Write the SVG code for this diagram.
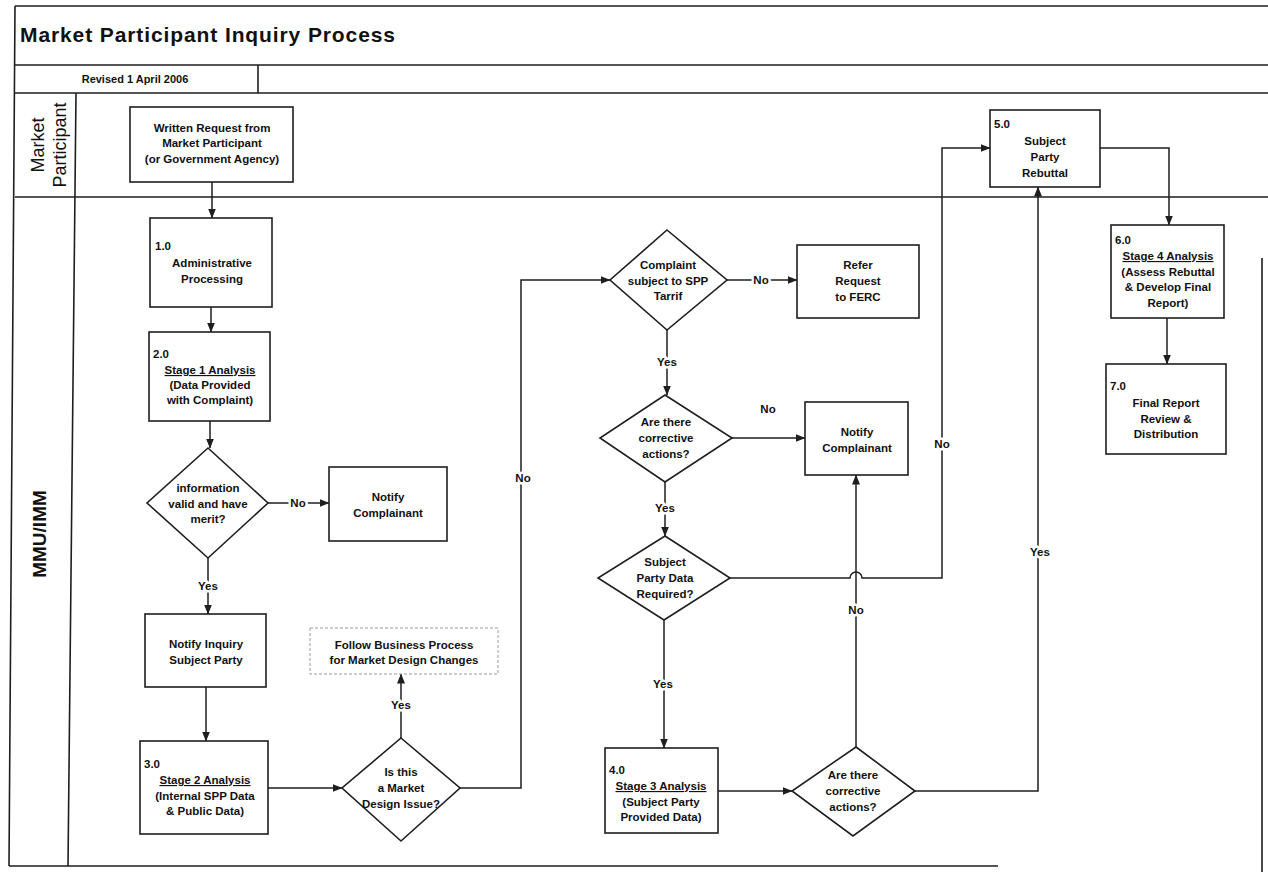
<svg xmlns="http://www.w3.org/2000/svg" width="1268" height="872" viewBox="0 0 1268 872">
  <style>
    .frame { fill: none; stroke: #1e1e1e; stroke-width: 1.6; }
    .box { fill: #ffffff; stroke: #1e1e1e; stroke-width: 1.6; }
    .soft { fill: #ffffff; stroke: #9a9a9a; stroke-width: 1; stroke-dasharray: 3 2; }
    .edge { fill: none; stroke: #1e1e1e; stroke-width: 1.5; }
    text { font-family: "Liberation Sans", Arial, sans-serif; fill: #111111; }
    .t { font-size: 11.5px; font-weight: bold; text-anchor: middle; }
    .num { font-size: 11.5px; font-weight: bold; }
    .u { text-decoration: underline; }
    .lbl { font-size: 11.5px; font-weight: bold; text-anchor: middle; stroke: #ffffff; stroke-width: 5; paint-order: stroke; stroke-linejoin: round; }
    .title { font-size: 21px; font-weight: bold; }
    .lane { font-size: 18px; text-anchor: middle; }
  </style>
  <defs>
    <marker id="ah" markerWidth="10" markerHeight="8" refX="9.5" refY="4" orient="auto" markerUnits="userSpaceOnUse">
      <path d="M0,0 L10,4 L0,8 z" fill="#1e1e1e"/>
    </marker>
  </defs>

  <rect width="1268" height="872" fill="#ffffff"/>

  <!-- page frame, title rows and swimlanes -->
  <g id="frame">
    <path class="frame" d="M15,6 H1268 M15,65 H1268 M15,93 H1268 M15,197 H1268 M258,65 V93 M15,6 L9,866 M76,93 L68,866 M9,866 H998 M1262,258 V872"/>
    <text class="title" x="20" y="42" textLength="375">Market Participant Inquiry Process</text>
    <text x="135" y="83" style="font-size:11px;font-weight:bold;text-anchor:middle">Revised 1 April 2006</text>
    <text class="lane" transform="translate(44,145) rotate(-90)">Market</text>
    <text class="lane" transform="translate(66,145) rotate(-90)">Participant</text>
    <text transform="translate(46,534) rotate(-90)" style="font-size:19px;font-weight:bold;text-anchor:middle">MMU/IMM</text>
  </g>

  <!-- connectors -->
  <g id="connectors">
    <path class="edge" marker-end="url(#ah)" d="M212,182 V218"/>
    <path class="edge" marker-end="url(#ah)" d="M211,307 V332"/>
    <path class="edge" marker-end="url(#ah)" d="M210,421 V448"/>
    <path class="edge" marker-end="url(#ah)" d="M268,503 H329"/>
    <path class="edge" marker-end="url(#ah)" d="M208,558 V614"/>
    <path class="edge" marker-end="url(#ah)" d="M206,687 V741"/>
    <path class="edge" marker-end="url(#ah)" d="M268,788 H342"/>
    <path class="edge" marker-end="url(#ah)" d="M401,738 V674"/>
    <path class="edge" marker-end="url(#ah)" d="M460,788 H521 V280 H610"/>
    <path class="edge" marker-end="url(#ah)" d="M727,280 H797"/>
    <path class="edge" marker-end="url(#ah)" d="M667,330 V395"/>
    <path class="edge" marker-end="url(#ah)" d="M732,438 H805"/>
    <path class="edge" marker-end="url(#ah)" d="M665,482 V536"/>
    <path class="edge" marker-end="url(#ah)" d="M730,578 H850 a6,6 0 0 1 12,0 H942 V148 H990"/>
    <path class="edge" marker-end="url(#ah)" d="M664,620 V748"/>
    <path class="edge" marker-end="url(#ah)" d="M718,791 H792"/>
    <path class="edge" marker-end="url(#ah)" d="M856,747 V475"/>
    <path class="edge" marker-end="url(#ah)" d="M915,791 H1038 V187"/>
    <path class="edge" marker-end="url(#ah)" d="M1100,148 H1169 V225"/>
    <path class="edge" marker-end="url(#ah)" d="M1167,318 V364"/>

    <text class="lbl" x="298" y="507">No</text>
    <text class="lbl" x="208" y="590">Yes</text>
    <text class="lbl" x="401" y="709">Yes</text>
    <text class="lbl" x="523" y="482">No</text>
    <text class="lbl" x="761" y="284">No</text>
    <text class="lbl" x="667" y="366">Yes</text>
    <text class="lbl" x="768" y="413">No</text>
    <text class="lbl" x="665" y="512">Yes</text>
    <text class="lbl" x="942" y="448">No</text>
    <text class="lbl" x="663" y="688">Yes</text>
    <text class="lbl" x="856" y="614">No</text>
    <text class="lbl" x="1040" y="556">Yes</text>
  </g>

  <!-- process steps -->
  <g id="written-request">
    <rect class="box" x="130" y="107" width="163" height="75"/>
    <text class="t" x="212" y="132">Written Request from</text>
    <text class="t" x="212" y="147">Market Participant</text>
    <text class="t" x="212" y="163">(or Government Agency)</text>
  </g>

  <g id="step-1">
    <rect class="box" x="150" y="218" width="122" height="89"/>
    <text class="num" x="155" y="250">1.0</text>
    <text class="t" x="212" y="267">Administrative</text>
    <text class="t" x="212" y="283">Processing</text>
  </g>

  <g id="step-2">
    <rect class="box" x="149" y="332" width="121" height="89"/>
    <text class="num" x="153" y="358">2.0</text>
    <text class="t u" x="210" y="374">Stage 1 Analysis</text>
    <text class="t" x="210" y="389">(Data Provided</text>
    <text class="t" x="210" y="404">with Complaint)</text>
  </g>

  <g id="valid-merit">
    <polygon class="box" points="208,448 268,503 208,558 147,503"/>
    <text class="t" x="208" y="492">information</text>
    <text class="t" x="208" y="508">valid and have</text>
    <text class="t" x="208" y="523">merit?</text>
  </g>

  <g id="notify-complainant-1">
    <rect class="box" x="329" y="467" width="118" height="74"/>
    <text class="t" x="388" y="501">Notify</text>
    <text class="t" x="388" y="517">Complainant</text>
  </g>

  <g id="notify-subject-party">
    <rect class="box" x="145" y="614" width="121" height="73"/>
    <text class="t" x="206" y="648">Notify Inquiry</text>
    <text class="t" x="206" y="664">Subject Party</text>
  </g>

  <g id="step-3">
    <rect class="box" x="140" y="741" width="128" height="93"/>
    <text class="num" x="144" y="768">3.0</text>
    <text class="t u" x="205" y="784">Stage 2 Analysis</text>
    <text class="t" x="205" y="800">(Internal SPP Data</text>
    <text class="t" x="205" y="815">&amp; Public Data)</text>
  </g>

  <g id="market-design">
    <polygon class="box" points="401,738 460,788 401,841 342,788"/>
    <text class="t" x="401" y="776">Is this</text>
    <text class="t" x="401" y="792">a Market</text>
    <text class="t" x="401" y="808">Design Issue?</text>
  </g>

  <g id="follow-business-process">
    <rect class="soft" x="310" y="628" width="188" height="46"/>
    <text class="t" x="404" y="649">Follow Business Process</text>
    <text class="t" x="404" y="664">for Market Design Changes</text>
  </g>

  <g id="spp-tariff">
    <polygon class="box" points="667,230 727,280 667,330 610,280"/>
    <text class="t" x="668" y="269">Complaint</text>
    <text class="t" x="668" y="285">subject to SPP</text>
    <text class="t" x="668" y="300">Tarrif</text>
  </g>

  <g id="refer-ferc">
    <rect class="box" x="797" y="245" width="122" height="73"/>
    <text class="t" x="858" y="269">Refer</text>
    <text class="t" x="858" y="285">Request</text>
    <text class="t" x="858" y="301">to FERC</text>
  </g>

  <g id="corrective-1">
    <polygon class="box" points="665,395 732,438 665,482 600,438"/>
    <text class="t" x="666" y="426">Are there</text>
    <text class="t" x="666" y="442">corrective</text>
    <text class="t" x="666" y="458">actions?</text>
  </g>

  <g id="notify-complainant-2">
    <rect class="box" x="805" y="402" width="103" height="73"/>
    <text class="t" x="857" y="436">Notify</text>
    <text class="t" x="857" y="452">Complainant</text>
  </g>

  <g id="party-data-required">
    <polygon class="box" points="665,536 730,578 664,620 598,578"/>
    <text class="t" x="665" y="566">Subject</text>
    <text class="t" x="665" y="582">Party Data</text>
    <text class="t" x="665" y="598">Required?</text>
  </g>

  <g id="step-4">
    <rect class="box" x="605" y="748" width="113" height="85"/>
    <text class="num" x="609" y="774">4.0</text>
    <text class="t u" x="661" y="790">Stage 3 Analysis</text>
    <text class="t" x="661" y="806">(Subject Party</text>
    <text class="t" x="661" y="821">Provided Data)</text>
  </g>

  <g id="corrective-2">
    <polygon class="box" points="856,747 915,791 853,836 792,791"/>
    <text class="t" x="853" y="779">Are there</text>
    <text class="t" x="853" y="795">corrective</text>
    <text class="t" x="853" y="811">actions?</text>
  </g>

  <g id="step-5">
    <rect class="box" x="990" y="110" width="110" height="77"/>
    <text class="num" x="994" y="128">5.0</text>
    <text class="t" x="1045" y="145">Subject</text>
    <text class="t" x="1045" y="161">Party</text>
    <text class="t" x="1045" y="177">Rebuttal</text>
  </g>

  <g id="step-6">
    <rect class="box" x="1111" y="225" width="113" height="93"/>
    <text class="num" x="1115" y="244">6.0</text>
    <text class="t u" x="1168" y="260">Stage 4 Analysis</text>
    <text class="t" x="1168" y="276">(Assess Rebuttal</text>
    <text class="t" x="1168" y="291">&amp; Develop Final</text>
    <text class="t" x="1168" y="307">Report)</text>
  </g>

  <g id="step-7">
    <rect class="box" x="1106" y="364" width="120" height="90"/>
    <text class="num" x="1110" y="390">7.0</text>
    <text class="t" x="1166" y="407">Final Report</text>
    <text class="t" x="1166" y="423">Review &amp;</text>
    <text class="t" x="1166" y="438">Distribution</text>
  </g>
</svg>
